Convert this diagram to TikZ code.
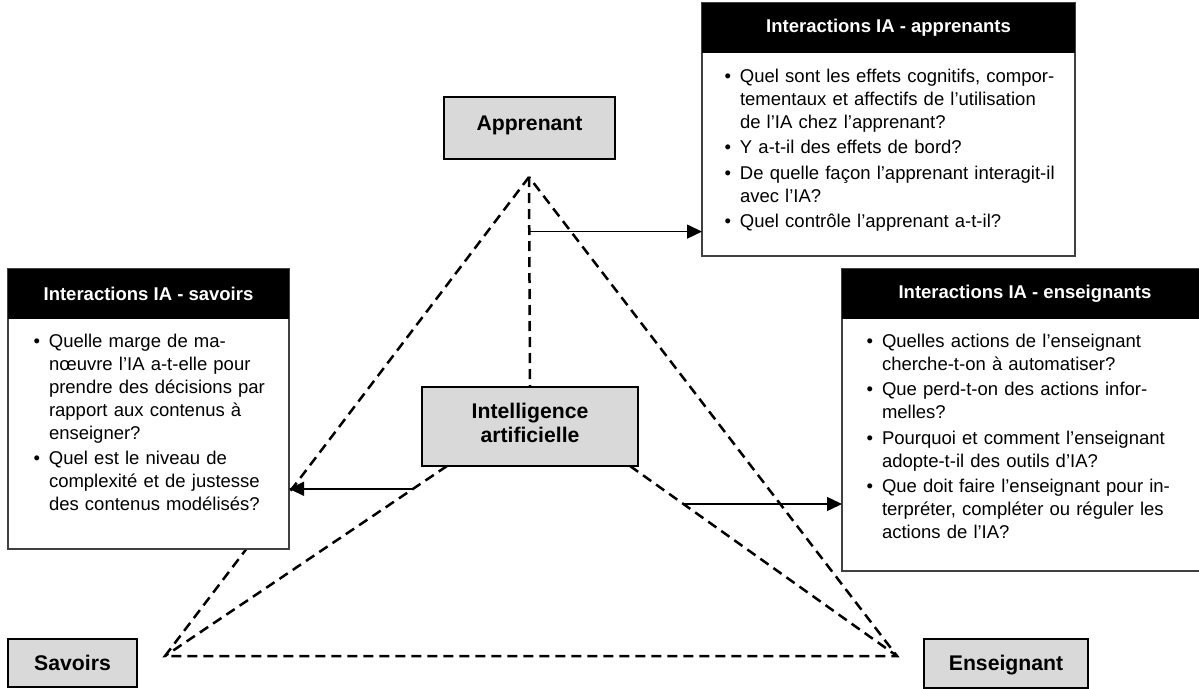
\documentclass[tikz,border=0pt]{standalone}
\usepackage{fontspec}
\setmainfont{Liberation Sans}
\usetikzlibrary{arrows.meta,calc}
\definecolor{polefill}{HTML}{D9D9D9}
\definecolor{boxgray}{HTML}{404040}
\pgfdeclarelayer{background}
\pgfsetlayers{background,main}
% bullet items of a question list: the first one opens the list
\newcommand\qbullet{\llap{\textbullet\hspace{9pt}}}
\newcommand\qfirst{\noindent\qbullet}
\newcommand\qitem{\par\noindent\qbullet}
\begin{document}
\begin{tikzpicture}[x=1pt,y=-1pt,
  dashline/.style={line width=2.5pt,dash pattern=on 10pt off 6pt},
  arrowline/.style={line width=1.4pt,-{Triangle[length=15pt,width=14pt]}},
  pole/.style={draw=black,line width=1.8pt,fill=polefill,inner sep=0pt,outer sep=0pt,
    font=\fontsize{21.2}{24}\selectfont\bfseries,text height=16pt},
  infobox/.style={draw=boxgray,line width=1.2pt,fill=white,inner sep=0pt,outer sep=0pt},
  infohead/.style={fill=black,text=white,inner sep=0pt,outer sep=0pt,minimum height=50pt,
    font=\fontsize{18.5}{22}\selectfont\bfseries},
  qlist/.style={inner sep=0pt,outer sep=0pt,anchor=base west,align=left,
    font=\fontsize{18.5}{23}\selectfont,
    execute at begin node={\setlength{\parskip}{2.5pt}}},
]
\useasboundingbox (0,0) rectangle (1199,688);
\clip (0,0) rectangle (1199,688);

% corners of the triangle
\coordinate (A) at (529,177);
\coordinate (S) at (165,656);
\coordinate (E) at (897,656);

% the four poles
\node[pole,minimum width=171pt,minimum height=62pt,text depth=12pt] (apprenant) at (529.5,128) {Apprenant};
\node[pole,minimum width=216pt,minimum height=79pt,text width=200pt,align=center,text depth=33pt] (ia) at (530,426.5) {Intelligence\\artificielle};
\node[pole,minimum width=129pt,minimum height=48pt,text depth=2pt] (savoirs) at (72.5,663) {Savoirs};
\node[pole,minimum width=164pt,minimum height=49pt,text depth=2pt] (enseignant) at (1006,663.5) {Enseignant};

% question boxes
\node[infobox,minimum width=373pt,minimum height=253pt] (appbox) at (888.5,129.5) {};
\node[infohead,minimum width=373pt,anchor=north] (apphead) at (appbox.north) {Interactions IA - apprenants};
\node[qlist,text width=340pt] (applist) at (740,82) {%
\qfirst Quel sont les effets cognitifs, compor-\\tementaux et affectifs de l’utilisation\\de l’IA chez l’apprenant?
\qitem Y a-t-il des effets de bord?
\qitem De quelle façon l’apprenant interagit-il\\avec l’IA?
\qitem Quel contrôle l’apprenant a-t-il?};

\node[infobox,minimum width=281pt,minimum height=280pt] (savbox) at (148.5,409) {};
\node[infohead,minimum width=281pt,anchor=north] (savhead) at (savbox.north) {Interactions IA - savoirs};
\node[qlist,text width=250pt] (savlist) at (49,347) {%
\qfirst Quelle marge de ma-\\nœuvre l’IA a-t-elle pour\\prendre des décisions par\\rapport aux contenus à\\enseigner?
\qitem Quel est le niveau de\\complexité et de justesse\\des contenus modélisés?};

\node[infobox,minimum width=366pt,minimum height=302pt] (ensbox) at (1025,420) {};
\node[infohead,minimum width=366pt,anchor=north] (enshead) at (ensbox.north) {Interactions IA - enseignants};
\node[qlist,text width=330pt] (enslist) at (882,347) {%
\qfirst Quelles actions de l’enseignant\\cherche-t-on à automatiser?
\qitem Que perd-t-on des actions infor-\\melles?
\qitem Pourquoi et comment l’enseignant\\adopte-t-il des outils d’IA?
\qitem Que doit faire l’enseignant pour in-\\terpréter, compléter ou réguler les\\actions de l’IA?};

% dashed triangle and the links to the AI, kept under the boxes
\begin{pgfonlayer}{background}
\draw[dashline] (A) -- (S) -- (E) -- cycle;
\draw[dashline] (A) -- (ia.north);
\draw[dashline] ([xshift=25pt]ia.south west) -- (S);
\draw[dashline] ([xshift=-8pt]ia.south east) -- (E);
\end{pgfonlayer}

% arrows from each link to its question box
\coordinate (a1) at ($(A)!0.26!(ia.north)$);
\draw[arrowline] (a1) -- (a1 -| appbox.west);
\coordinate (a2) at ($([xshift=25pt]ia.south west)!0.12!(S)$);
\draw[arrowline] (a2) -- (a2 -| savbox.east);
\coordinate (a3) at ($([xshift=-8pt]ia.south east)!0.2!(E)$);
\draw[arrowline] (a3) -- (a3 -| ensbox.west);
\end{tikzpicture}
\end{document}
